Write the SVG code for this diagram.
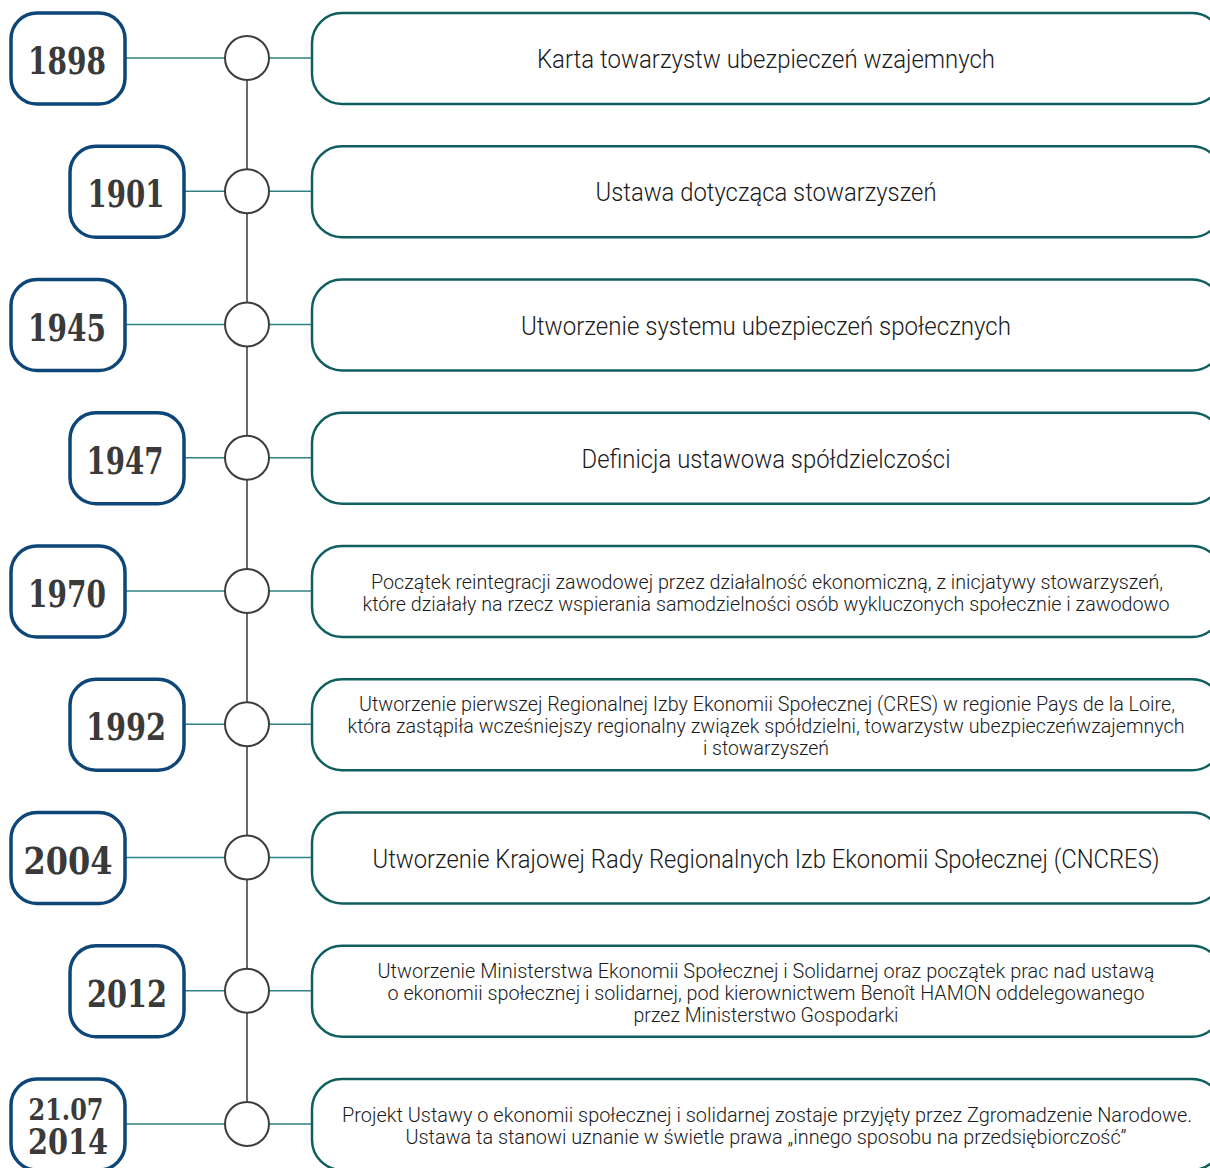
<svg xmlns="http://www.w3.org/2000/svg" width="1210" height="1168" viewBox="0 0 1210 1168">
<style>
.yb{fill:#fff;stroke:#0d4677;stroke-width:3.5}
.eb{fill:#fff;stroke:#105f60;stroke-width:2.5}
.cc{fill:#fff;stroke:#3c3c3c;stroke-width:2}
.hl{stroke:#2f8080;stroke-width:1.5;fill:none}
.vl{stroke:#444;stroke-width:1.6;fill:none}
.yt{font-family:"DejaVu Serif",serif;font-weight:bold;font-stretch:condensed;font-size:38px;fill:#3a3a3a;text-anchor:middle}
.et{font-family:Roboto,"Liberation Sans",sans-serif;font-weight:300;font-size:26px;fill:#1a1a1a;text-anchor:middle}
.em{font-family:Roboto,"Liberation Sans",sans-serif;font-weight:300;font-size:20px;fill:#1a1a1a;text-anchor:middle}
</style>
<rect width="1210" height="1168" fill="#fff"/>
<g id="connectors">
<line class="vl" x1="247" y1="58" x2="247" y2="1124"/>
<line class="hl" x1="125" y1="58" x2="225" y2="58"/><line class="hl" x1="269" y1="58" x2="312" y2="58"/>
<line class="hl" x1="184" y1="191.25" x2="225" y2="191.25"/><line class="hl" x1="269" y1="191.25" x2="312" y2="191.25"/>
<line class="hl" x1="125" y1="324.5" x2="225" y2="324.5"/><line class="hl" x1="269" y1="324.5" x2="312" y2="324.5"/>
<line class="hl" x1="184" y1="457.75" x2="225" y2="457.75"/><line class="hl" x1="269" y1="457.75" x2="312" y2="457.75"/>
<line class="hl" x1="125" y1="591" x2="225" y2="591"/><line class="hl" x1="269" y1="591" x2="312" y2="591"/>
<line class="hl" x1="184" y1="724.25" x2="225" y2="724.25"/><line class="hl" x1="269" y1="724.25" x2="312" y2="724.25"/>
<line class="hl" x1="125" y1="857.5" x2="225" y2="857.5"/><line class="hl" x1="269" y1="857.5" x2="312" y2="857.5"/>
<line class="hl" x1="184" y1="990.75" x2="225" y2="990.75"/><line class="hl" x1="269" y1="990.75" x2="312" y2="990.75"/>
<line class="hl" x1="125" y1="1124" x2="225" y2="1124"/><line class="hl" x1="269" y1="1124" x2="312" y2="1124"/>
</g>
<g id="dots">
<circle class="cc" cx="247" cy="58" r="22"/>
<circle class="cc" cx="247" cy="191.25" r="22"/>
<circle class="cc" cx="247" cy="324.5" r="22"/>
<circle class="cc" cx="247" cy="457.75" r="22"/>
<circle class="cc" cx="247" cy="591" r="22"/>
<circle class="cc" cx="247" cy="724.25" r="22"/>
<circle class="cc" cx="247" cy="857.5" r="22"/>
<circle class="cc" cx="247" cy="990.75" r="22"/>
<circle class="cc" cx="247" cy="1124" r="22"/>
</g>
<g id="y1898"><rect class="yb" x="11" y="13" width="114" height="91" rx="26"/><text class="yt" x="67" y="74" textLength="78" lengthAdjust="spacingAndGlyphs">1898</text></g>
<g id="y1901"><rect class="yb" x="70" y="146.25" width="114" height="91" rx="26"/><text class="yt" x="126" y="207.25" textLength="77" lengthAdjust="spacingAndGlyphs">1901</text></g>
<g id="y1945"><rect class="yb" x="11" y="279.5" width="114" height="91" rx="26"/><text class="yt" x="67" y="340.5" textLength="78" lengthAdjust="spacingAndGlyphs">1945</text></g>
<g id="y1947"><rect class="yb" x="70" y="412.75" width="114" height="91" rx="26"/><text class="yt" x="125" y="473.75" textLength="77" lengthAdjust="spacingAndGlyphs">1947</text></g>
<g id="y1970"><rect class="yb" x="11" y="546" width="114" height="91" rx="26"/><text class="yt" x="67" y="607" textLength="78" lengthAdjust="spacingAndGlyphs">1970</text></g>
<g id="y1992"><rect class="yb" x="70" y="679.25" width="114" height="91" rx="26"/><text class="yt" x="126" y="740.25" textLength="80" lengthAdjust="spacingAndGlyphs">1992</text></g>
<g id="y2004"><rect class="yb" x="11" y="812.5" width="114" height="91" rx="26"/><text class="yt" x="68" y="873.5" textLength="89" lengthAdjust="spacingAndGlyphs">2004</text></g>
<g id="y2012"><rect class="yb" x="70" y="945.75" width="114" height="91" rx="26"/><text class="yt" x="127" y="1006.75" textLength="80" lengthAdjust="spacingAndGlyphs">2012</text></g>
<g id="y2014"><rect class="yb" x="11" y="1079" width="114" height="91" rx="26"/><text class="yt" x="66" y="1120" style="font-size:30px" textLength="75" lengthAdjust="spacingAndGlyphs">21.07</text><text class="yt" x="68" y="1154" style="font-size:35px" textLength="80" lengthAdjust="spacingAndGlyphs">2014</text></g>
<g id="e1898"><rect class="eb" x="312" y="13" width="910" height="91" rx="30"/><text class="et" x="766" y="68" textLength="458" lengthAdjust="spacingAndGlyphs">Karta towarzystw ubezpieczeń wzajemnych</text></g>
<g id="e1901"><rect class="eb" x="312" y="146.25" width="910" height="91" rx="30"/><text class="et" x="766" y="201.25" textLength="341" lengthAdjust="spacingAndGlyphs">Ustawa dotycząca stowarzyszeń</text></g>
<g id="e1945"><rect class="eb" x="312" y="279.5" width="910" height="91" rx="30"/><text class="et" x="766" y="334.5" textLength="490" lengthAdjust="spacingAndGlyphs">Utworzenie systemu ubezpieczeń społecznych</text></g>
<g id="e1947"><rect class="eb" x="312" y="412.75" width="910" height="91" rx="30"/><text class="et" x="766" y="467.75" textLength="369" lengthAdjust="spacingAndGlyphs">Definicja ustawowa spółdzielczości</text></g>
<g id="e1970"><rect class="eb" x="312" y="546" width="910" height="91" rx="30"/><text class="em" x="767" y="589" textLength="792" lengthAdjust="spacingAndGlyphs">Początek reintegracji zawodowej przez działalność ekonomiczną, z inicjatywy stowarzyszeń,</text><text class="em" x="766" y="611" textLength="807" lengthAdjust="spacingAndGlyphs">które działały na rzecz wspierania samodzielności osób wykluczonych społecznie i zawodowo</text></g>
<g id="e1992"><rect class="eb" x="312" y="679.25" width="910" height="91" rx="30"/><text class="em" x="767" y="711" textLength="816" lengthAdjust="spacingAndGlyphs">Utworzenie pierwszej Regionalnej Izby Ekonomii Społecznej (CRES) w regionie Pays de la Loire,</text><text class="em" x="766" y="733" textLength="837" lengthAdjust="spacingAndGlyphs">która zastąpiła wcześniejszy regionalny związek spółdzielni, towarzystw ubezpieczeńwzajemnych</text><text class="em" x="766" y="755" textLength="126" lengthAdjust="spacingAndGlyphs">i stowarzyszeń</text></g>
<g id="e2004"><rect class="eb" x="312" y="812.5" width="910" height="91" rx="30"/><text class="et" x="766" y="867.5" textLength="787" lengthAdjust="spacingAndGlyphs">Utworzenie Krajowej Rady Regionalnych Izb Ekonomii Społecznej (CNCRES)</text></g>
<g id="e2012"><rect class="eb" x="312" y="945.75" width="910" height="91" rx="30"/><text class="em" x="766" y="978" textLength="777" lengthAdjust="spacingAndGlyphs">Utworzenie Ministerstwa Ekonomii Społecznej i Solidarnej oraz początek prac nad ustawą</text><text class="em" x="766" y="1000" textLength="757" lengthAdjust="spacingAndGlyphs">o ekonomii społecznej i solidarnej, pod kierownictwem Benoît HAMON oddelegowanego</text><text class="em" x="766" y="1022" textLength="265" lengthAdjust="spacingAndGlyphs">przez Ministerstwo Gospodarki</text></g>
<g id="e2014"><rect class="eb" x="312" y="1079" width="910" height="91" rx="30"/><text class="em" x="767" y="1122" textLength="850" lengthAdjust="spacingAndGlyphs">Projekt Ustawy o ekonomii społecznej i solidarnej zostaje przyjęty przez Zgromadzenie Narodowe.</text><text class="em" x="766" y="1144" textLength="721" lengthAdjust="spacingAndGlyphs">Ustawa ta stanowi uznanie w świetle prawa „innego sposobu na przedsiębiorczość”</text></g>
</svg>
